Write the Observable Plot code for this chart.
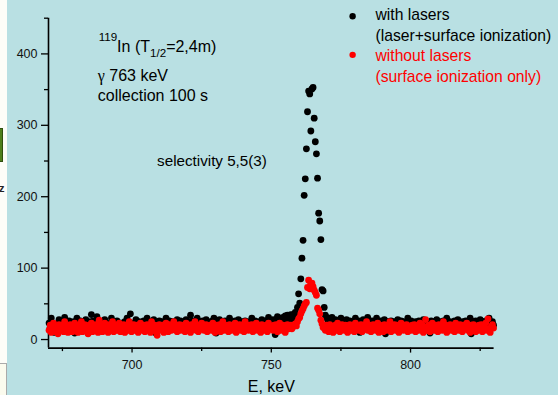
<!DOCTYPE html>
<html><head><meta charset="utf-8">
<script src="https://cdn.jsdelivr.net/npm/d3@7"></script>
<script src="https://cdn.jsdelivr.net/npm/@observablehq/plot@0.6"></script>
<style>
html,body{margin:0;padding:0;background:#b9e0e3;width:558px;height:395px;overflow:hidden;}
#wrap{position:relative;width:558px;height:395px;}
.strip{position:absolute;left:0;top:0;width:7px;height:395px;background:#fdfdf8;}
.green{position:absolute;left:0;top:128px;width:2px;height:32px;background:#4e7f1c;border:1px solid #2f4f10;border-left:none}
.zchar{position:absolute;left:-1px;top:182px;font:bold 11px 'Liberation Sans',Arial,sans-serif;color:#222;}
.box{position:absolute;left:-1px;top:363px;width:6px;height:40px;background:#fbfbee;border:1px solid #aaa;}
#chart{position:absolute;left:0;top:0;}
</style></head>
<body><div id="wrap"><div class="strip"></div><div class="green"></div><div class="zchar">z</div><div class="box"></div><div id="chart"></div></div>
<script>
// Channel grid: 0.4 keV per channel, 400 channels from 670.2 keV
const channelStart = 670.2, channelWidth = 0.4, channelCount = 400;

// Counts "with lasers" (laser + surface ionization)
const withLeft = [
  23,17,30,11,20,10,15,22,18,28,14,25,20,17,31,12,23,18,26,22,
  15,20,25,9,18,30,17,22,26,14,20,23,17,28,18,9,22,25,35,20,
  26,18,22,32,15,23,20,14,25,18,28,17,22,20,12,23,30,18,25,15,
  20,26,17,22,23,23,18,15,25,20,30,17,22,36,14,20,23,18,28,17,
  22,25,15,20,18,26,23,17,30,20,15,22,25,18,28,10,23,20,17,26,
  22,18,25,15,23,30,20,17,26,22,14,25,18,23,20,28,17,22,26,15,
  20,23,18,28,17,22,25,34,20,26,18,23,15,30,22,25,17,20,26,18,
  23,28,17,22,20,25,18,26,30,22,9,23,20,28,18,25,22,17,26,20,
  23,18,30,22,17,25,20,26,15,23,28,18,22,25,20,17,26,23,18,22,
  25,20,30,17,23,26,18,22,15,25,20,28,23,17,26,22,18,31,23,20,
  25,28,22,7,26,32,23,30,20,26,31,25,33,28,34,31,26,35,33,35
];
const withPeak = [
  30,38,32,45,64,51,85,114,139,202,225,267,319,348,344,292,351,353,310,277,
  260,226,177,166,140,70,68,45,34,31,28
];
const withRight = [
  30,26,22,31,25,20,28,23,18,26,22,30,17,25,20,23,28,18,22,26,
  20,25,17,23,30,18,22,26,10,23,20,28,25,18,22,31,17,23,20,26,
  22,18,25,30,17,23,20,26,18,22,28,8,23,25,20,17,26,22,18,25,
  23,20,28,17,22,26,18,25,15,23,20,30,22,18,26,17,23,20,25,22,
  18,26,20,23,17,28,22,25,18,23,20,9,26,22,25,17,23,28,20,18,
  25,22,17,26,20,23,30,18,22,25,15,23,20,26,18,22,28,17,23,20,
  25,18,22,26,17,23,20,30,8,22,25,18,26,20,23,17,28,22,18,25,
  20,26,17,23,30,18,22,25,20
];

// Counts "without lasers" (surface ionization only)
const withoutLeft = [
  13,20,10,16,23,11,18,15,8,21,16,13,20,11,25,15,18,10,16,21,
  15,11,18,23,13,16,10,20,15,25,11,18,21,13,16,8,20,15,23,11,
  18,13,21,16,10,27,15,20,11,18,23,13,16,10,21,15,18,25,11,16,
  20,13,16,23,11,18,15,21,10,16,20,13,25,15,11,18,21,13,16,20,
  10,15,23,18,13,20,11,16,21,15,18,10,25,13,16,20,11,6,15,21,
  16,13,20,10,18,23,15,11,21,16,13,20,25,15,18,11,16,21,13,20,
  15,18,11,23,16,13,20,10,21,15,18,25,13,16,11,20,15,23,18,13,
  16,21,11,18,15,20,13,23,16,10,20,15,18,21,11,16,25,13,20,15,
  18,11,21,16,13,20,15,23,10,18,16,21,13,20,15,11,25,16,18,13,
  20,15,21,11,18,16,23,13,20,15,10,21,18,16,13,20,11,23,15,18,
  16,13,20,15,21,11,18,23,13,16,20,15,10,18,21,15,16,20,15,18
];
const withoutPeak = [
  20,22,19,25,29,31,36,40,43,47,50,52,73,83,71,78,79,74,69,66,
  62,44,41,36,27,22,17
];
const withoutRight = [
  18,13,20,16,11,21,15,18,10,16,20,13,23,15,11,18,21,16,13,20,
  15,10,18,21,13,16,20,11,23,15,18,13,16,21,11,20,15,18,25,13,
  16,20,11,15,21,18,13,16,23,10,20,15,18,11,21,16,13,20,15,25,
  11,18,16,21,13,20,15,10,18,23,16,13,20,15,21,11,18,16,13,20,
  15,21,11,18,16,13,23,15,20,10,18,28,13,16,20,11,15,23,18,13,
  20,16,11,21,15,18,13,25,16,20,10,18,15,21,13,16,20,11,23,15,
  18,13,21,16,11,20,15,18,23,13,16,10,20,15,21,18,11,16,13,20,
  15,21,11,18,16,23,13,29,15,10,18,21,16
];

const xMajor = [700, 750, 800];
const xMinor = [675, 725, 775, 825];
const yMajor = [0, 100, 200, 300, 400];
const yMinor = [50, 150, 250, 350, 450];

const seriesLabels = ["with lasers", "(laser+surface ionization)", "without lasers", "(surface ionization only)"];
const titleText = "119In (T1/2=2,4m)";
const gammaText = "γ 763 keV";
const collectionText = "collection 100 s";
const selectivityText = "selectivity 5,5(3)";
const xLabel = "E, keV";

const withCounts = withLeft.concat(withPeak, withRight);
const withoutCounts = withoutLeft.concat(withoutPeak, withoutRight);
const energies = d3.range(channelCount).map(i => +(channelStart + channelWidth * i).toFixed(1));
const withData = energies.map((E, i) => ({E, c: withCounts[i]}));
const withoutData = energies.map((E, i) => ({E, c: withoutCounts[i]}));

const font = "'Liberation Sans', Arial, Helvetica, sans-serif";

const plot = Plot.plot({
  width: 558, height: 395,
  marginLeft: 48, marginRight: 64.4, marginTop: 17.7, marginBottom: 47.4,
  x: {domain: [670, 830], label: null},
  y: {domain: [-12, 450], label: null},
  style: {background: "transparent", color: "#000", fontFamily: font, overflow: "visible"},
  marks: [
    Plot.axisY({ticks: yMajor, tickSize: 7, tickPadding: 4, fontSize: 12.5, strokeWidth: 1.3, label: null, fill: "#111"}),
    Plot.axisY({ticks: yMinor, tickSize: 4, tickFormat: () => "", strokeWidth: 1.3, label: null}),
    Plot.axisX({ticks: xMajor, tickSize: 5, tickPadding: 7, fontSize: 12.5, strokeWidth: 1.3, label: null, fill: "#111"}),
    Plot.axisX({ticks: xMinor, tickSize: 3.5, tickFormat: () => "", strokeWidth: 1.3, label: null}),
    Plot.ruleX([670], {strokeWidth: 1.6, stroke: "#000"}),
    Plot.ruleY([-12], {strokeWidth: 1.6, stroke: "#000"}),
    Plot.dot(withData, {x: "E", y: "c", r: 3.4, fill: "#000"}),
    Plot.dot(withoutData, {x: "E", y: "c", r: 3.4, fill: "#ff0000"}),
    // annotations
    Plot.text([titleText], {x: [688.0], y: [402.4], text: d => d, textAnchor: "start", lineAnchor: "bottom", fontSize: 16, fill: "#000"}),
    Plot.text([gammaText], {x: [687.7], y: [362.7], text: d => d, textAnchor: "start", lineAnchor: "bottom", fontSize: 16, fill: "#000"}),
    Plot.text([collectionText], {x: [687.7], y: [334.7], text: d => d, textAnchor: "start", lineAnchor: "bottom", fontSize: 16, fill: "#000"}),
    Plot.text([selectivityText], {x: [709.0], y: [243.7], text: d => d, textAnchor: "start", lineAnchor: "bottom", fontSize: 15.2, fill: "#000"}),
    // legend
    Plot.dot([0], {x: [779.2], y: [452.8], r: 3.2, fill: "#000"}),
    Plot.dot([0], {x: [779.2], y: [398.7], r: 3.2, fill: "#ff0000"}),
    Plot.text(seriesLabels, {x: [787.4, 787.4, 787.4, 787.4], y: [446.8, 417.4, 390.1, 361.3], text: d => d, textAnchor: "start", lineAnchor: "bottom", fontSize: 15.7, fill: ["#000", "#000", "#ff0000", "#ff0000"]}),
    // x axis label
    Plot.text([xLabel], {x: [750], frameAnchor: "bottom", dy: 44, text: d => d, lineAnchor: "bottom", fontSize: 16, fill: "#000"})
  ]
});

// rich text: superscript / subscript and gamma glyph
d3.select(plot).selectAll("text").each(function () {
  const t = d3.select(this);
  if (this.textContent === titleText) {
    t.text(null);
    t.append("tspan").attr("font-size", 11.6).attr("dy", -11.7).text("119");
    t.append("tspan").attr("dy", 11.7).text("In (T");
    t.append("tspan").attr("font-size", 11.6).attr("dy", 4.3).text("1/2");
    t.append("tspan").attr("dy", -4.3).text("=2,4m)");
  } else if (this.textContent === gammaText) {
    t.text(null);
    t.append("tspan").attr("font-family", "'Liberation Serif', 'DejaVu Serif', serif").text("γ");
    t.append("tspan").text(" 763 keV");
  }
});

document.getElementById("chart").appendChild(plot);
</script>
</body></html>
